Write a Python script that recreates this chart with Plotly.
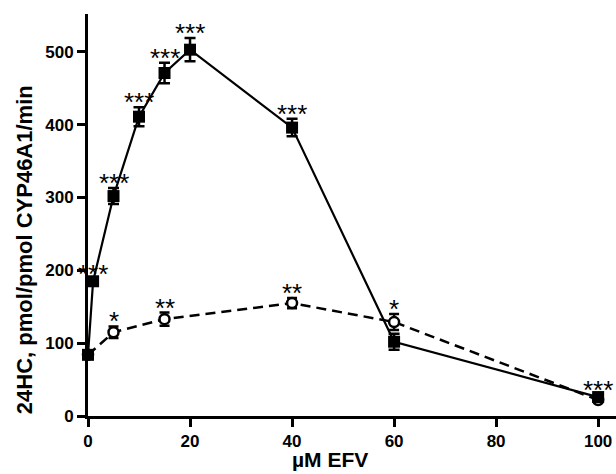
import plotly.graph_objects as go

# Solid series (filled squares)
efv_solid = [0, 1, 5, 10, 15, 20, 40, 60, 100]
hc_solid = [84, 185, 302, 411, 471, 503, 396, 102, 26]
err_solid = [4, 3, 11, 13, 14, 16, 12, 11, 3]
sig_solid = ["", "***", "***", "***", "***", "***", "***", "", "***"]

# Dashed series (open circles)
efv_dash = [0, 5, 15, 40, 60, 100]
hc_dash = [84, 115, 133, 155, 129, 22]
err_dash = [4, 8, 9, 7, 11, 3]
sig_dash = ["", "*", "**", "**", "*", ""]

x_ticks = [0, 20, 40, 60, 80, 100]
y_ticks = [0, 100, 200, 300, 400, 500]

x_title = "µM EFV"
y_title = "24HC, pmol/pmol CYP46A1/min"

FONT = "Liberation Sans, Arial, sans-serif"

fig = go.Figure()

fig.add_trace(go.Scatter(
    x=efv_dash, y=hc_dash, mode="lines+markers",
    line=dict(color="black", width=2.5, dash="10px,6px"),
    marker=dict(symbol="circle", size=10, color="white",
                line=dict(color="black", width=2.5)),
    error_y=dict(type="data", array=err_dash, color="black", thickness=2.5, width=5),
    cliponaxis=False, showlegend=False,
))

fig.add_trace(go.Scatter(
    x=efv_solid, y=hc_solid, mode="lines+markers",
    line=dict(color="black", width=2.2),
    marker=dict(symbol="square", size=12, color="black",
                line=dict(color="black", width=0)),
    error_y=dict(type="data", array=err_solid, color="black", thickness=2.5, width=5.5),
    cliponaxis=False, showlegend=False,
))

for xs, ys, es, ss in [(efv_solid, hc_solid, err_solid, sig_solid),
                       (efv_dash, hc_dash, err_dash, sig_dash)]:
    for xv, yv, ev, sv in zip(xs, ys, es, ss):
        if not sv:
            continue
        fig.add_annotation(
            x=xv, y=yv + ev, text=sv, showarrow=False,
            xanchor="center", yanchor="bottom", yshift=-12,
            font=dict(family=FONT, size=26, color="black"),
        )

fig.add_annotation(
    xref="paper", yref="paper", x=0.459, y=-0.107, text=x_title,
    showarrow=False, xanchor="center", yanchor="middle",
    font=dict(family=FONT, size=21, weight="bold", color="black"),
)
fig.add_annotation(
    xref="paper", yref="paper", x=-0.119, y=0.413, text=y_title,
    showarrow=False, xanchor="center", yanchor="middle", textangle=-90,
    font=dict(family=FONT, size=22, weight="bold", color="black"),
)

fig.update_layout(
    width=616, height=474,
    margin=dict(l=88, r=0, t=14, b=58),
    paper_bgcolor="white", plot_bgcolor="white",
    font=dict(family=FONT, color="black"),
)

fig.update_xaxes(
    range=[0, 103.5], tickvals=x_ticks, ticks="outside", ticklen=8,
    tickwidth=2.5, tickcolor="black", showline=True, linecolor="black",
    linewidth=3, showgrid=False, zeroline=False,
    tickfont=dict(family=FONT, size=17, weight="bold", color="black"),
)

fig.update_yaxes(
    range=[0, 552], tickvals=y_ticks, ticks="outside", ticklen=8,
    tickwidth=2.5, tickcolor="black", showline=True, linecolor="black",
    linewidth=3, showgrid=False, zeroline=False,
    tickfont=dict(family=FONT, size=17, weight="bold", color="black"),
)

fig.write_html("out.html")
